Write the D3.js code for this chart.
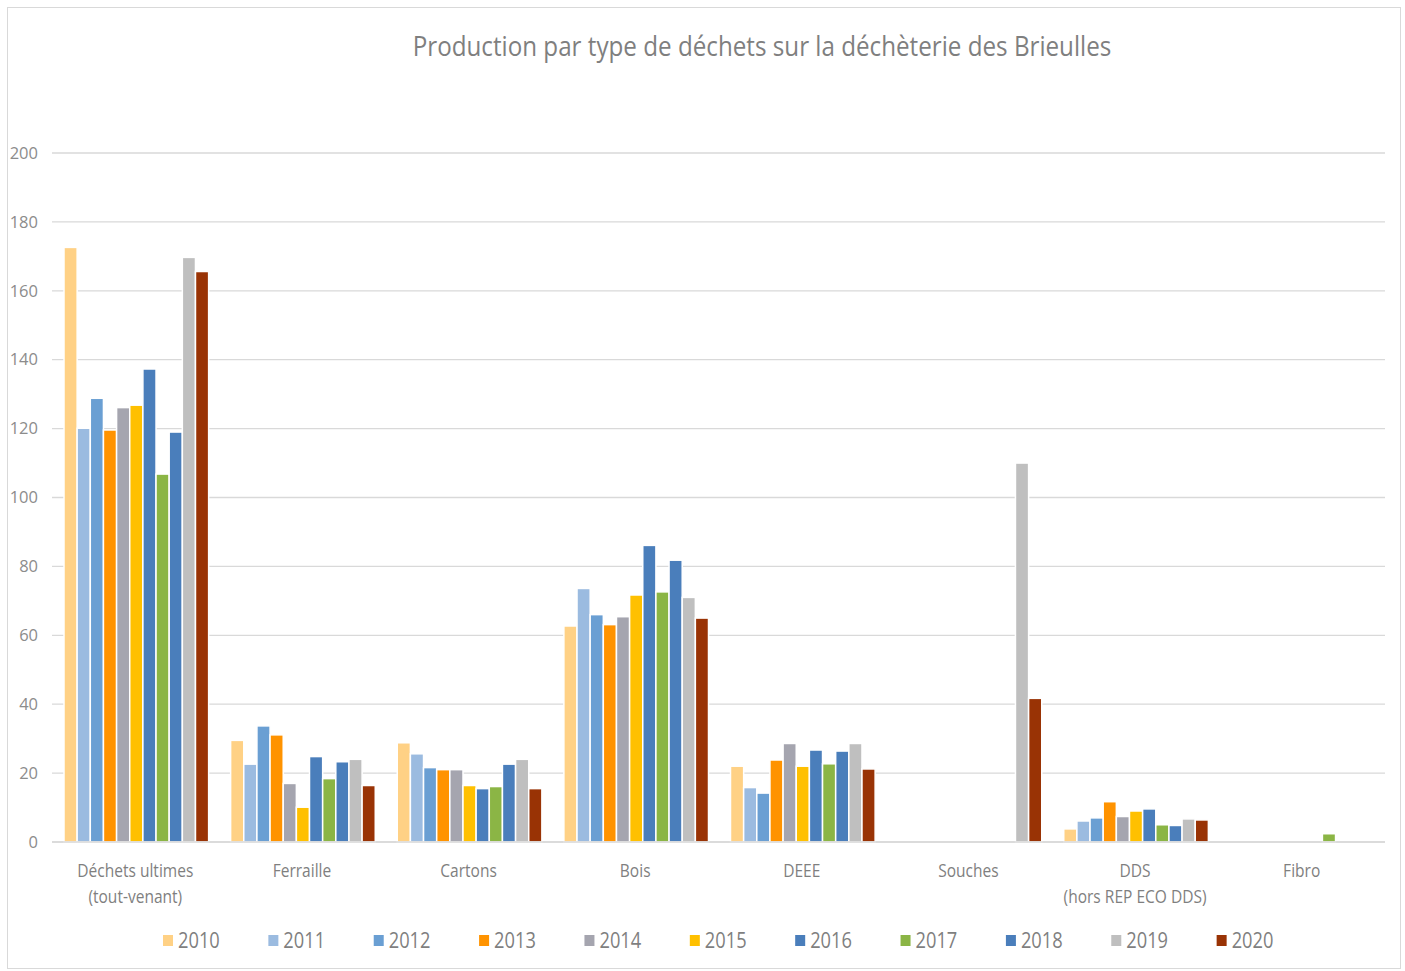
<!DOCTYPE html>
<html><head><meta charset="utf-8">
<script src="https://cdn.jsdelivr.net/npm/d3@7"></script>
<style>body{margin:0;background:#fff}svg{display:block}text{font-family:"Open Sans","Liberation Sans",sans-serif}</style>
</head><body><svg id="c" width="1405" height="971"></svg>
<script>
const title = "Production par type de déchets sur la déchèterie des Brieulles";
const categories = [["Déchets ultimes","(tout-venant)"],["Ferraille"],["Cartons"],["Bois"],["DEEE"],["Souches"],["DDS","(hors REP ECO DDS)"],["Fibro"]];
const years = ["2010","2011","2012","2013","2014","2015","2016","2017","2018","2019","2020"];
const colors = ["#FFD185","#9BBBE0","#6A9FD3","#FF9300","#A5A5AF","#FFC000","#4A7EBB","#8BB545","#4A7EBB","#BFBFBF","#993305"];
const yTicks = [0,20,40,60,80,100,120,140,160,180,200];
// values per category, one per year (null = no bar)
const v_dechets  = [172.6,120.1,128.8,119.6,126.1,126.8,137.3,106.8,119.0,169.7,165.6];
const v_ferraille= [29.5,22.6,33.7,31.1,17.0,10.1,24.8,18.4,23.3,24.0,16.4];
const v_cartons  = [28.8,25.6,21.6,21.0,21.0,16.4,15.5,16.1,22.6,24.0,15.5];
const v_bois     = [62.7,73.6,66.0,63.1,65.4,71.7,86.1,72.6,81.8,71.0,65.0];
const v_deee     = [22.0,15.8,14.2,23.8,28.6,22.0,26.7,22.7,26.4,28.6,21.2];
const v_souches  = [null,null,null,null,null,null,null,null,null,110.0,41.7];
const v_dds      = [3.8,6.1,7.0,11.7,7.4,9.0,9.6,5.0,4.8,6.7,6.4];
const v_fibro    = [null,null,null,null,null,null,null,2.4,null,null,null];
const values = [v_dechets,v_ferraille,v_cartons,v_bois,v_deee,v_souches,v_dds,v_fibro];

const svg = d3.select("#c");
const L=52, R=1385, T=153, B=842;
svg.append("rect").attr("x",7.5).attr("y",7.5).attr("width",1393).attr("height",961).attr("fill","#fff").attr("stroke","#d9d9d9").attr("stroke-width",1);

const y = d3.scaleLinear().domain([0,200]).range([B,T]);
const x0 = d3.scaleBand().domain(d3.range(categories.length)).range([L,R]).padding(0);
const gapSide = x0.bandwidth()*0.066;
const x1 = d3.scaleBand().domain(years).range([gapSide+1, x0.bandwidth()-gapSide+1]).padding(0);

// gridlines
svg.append("g").selectAll("line").data(yTicks).join("line")
  .attr("x1",L).attr("x2",R).attr("y1",d=>y(d)).attr("y2",d=>y(d))
  .attr("stroke","#d9d9d9").attr("stroke-width",1.3);
// y labels
svg.append("g").selectAll("text").data(yTicks).join("text")
  .attr("x",38).attr("y",d=>y(d)).attr("dy","0.35em").attr("text-anchor","end")
  .attr("font-size",16.5).attr("fill","#8c8c8c").text(d=>d);

// bars
const g = svg.append("g");
values.forEach((vals,ci)=>{
  g.append("g").attr("transform",`translate(${x0(ci)},0)`)
   .selectAll("rect").data(vals.map((v,i)=>({v,i})).filter(d=>d.v!=null)).join("rect")
   .attr("x",d=>x1(years[d.i])).attr("width",x1.bandwidth())
   .attr("y",d=>y(d.v)).attr("height",d=>y(0)-y(d.v))
   .attr("fill",d=>colors[d.i]).attr("stroke","#fff").attr("stroke-width",1.5);
});
// baseline
svg.append("line").attr("x1",L).attr("x2",R).attr("y1",B).attr("y2",B).attr("stroke","#d9d9d9").attr("stroke-width",1.3);

function condense(sel, k){
  sel.each(function(){
    const t=d3.select(this); const x=+t.attr("x");
    t.attr("transform",`translate(${x*(1-k)},0) scale(${k},1)`);
  });
}
// category labels
const cl = svg.append("g");
categories.forEach((lines,ci)=>{
  lines.forEach((s,li)=>{
    cl.append("text").attr("x",x0(ci)+x0.bandwidth()/2).attr("y",877+li*26)
      .attr("text-anchor","middle").attr("font-size",18.5).attr("fill","#7f7f7f").text(s);
  });
});
condense(cl.selectAll("text"),0.84);

// title
const tt = svg.append("text").attr("x",762).attr("y",56).attr("text-anchor","middle")
  .attr("font-size",28).attr("fill","#7f7f7f").text(title);
condense(tt,0.865);

// legend
const lg = svg.append("g");
const lx = d3.scaleBand().domain(years).range([158,1317]);
years.forEach((yr,i)=>{
  lg.append("rect").attr("x",lx(yr)+5).attr("y",935).attr("width",10).attr("height",11).attr("fill",colors[i]);
  lg.append("text").attr("x",lx(yr)+20).attr("y",948).attr("font-size",21).attr("fill","#7f7f7f").attr("class","lt").text(yr);
});
condense(lg.selectAll("text.lt"),0.87);
</script></body></html>
